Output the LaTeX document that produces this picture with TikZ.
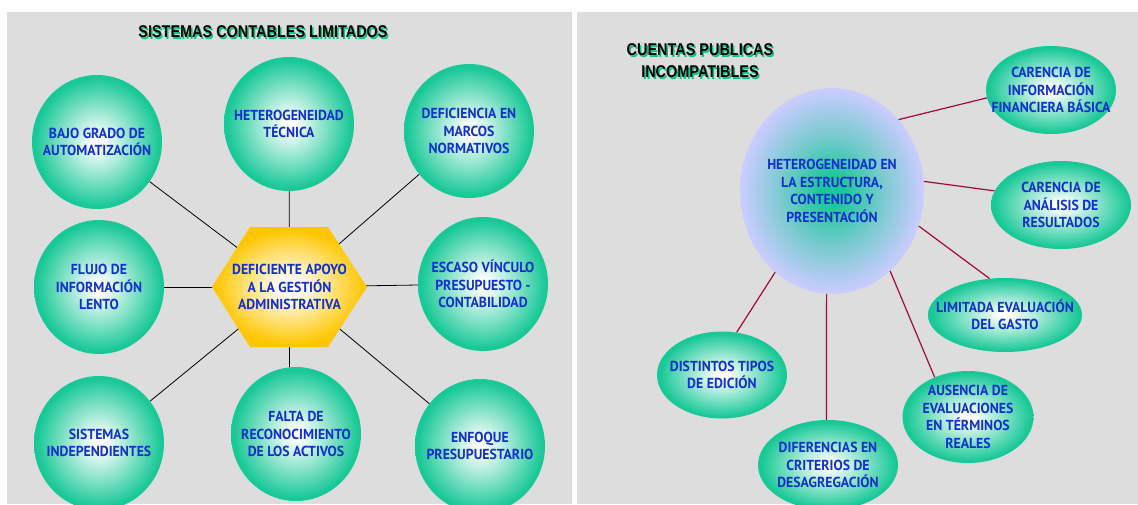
\documentclass[tikz,border=0pt]{standalone}
\usepackage{fontspec}
\setmainfont{PT Sans}
\newfontfamily\circfont[FakeStretch=0.95]{PT Sans}
\newfontfamily\titfont[FakeStretch=0.85]{Liberation Sans}
\usetikzlibrary{shapes.geometric}
\definecolor{panelgris}{RGB}{221,221,221}
\definecolor{menta}{RGB}{24,200,150}
\definecolor{mentaosc}{RGB}{14,190,140}
\definecolor{azultxt}{RGB}{18,48,205}
\definecolor{oro}{RGB}{255,198,0}
\definecolor{lavanda}{RGB}{204,204,255}
\definecolor{granate}{RGB}{160,10,60}
\definecolor{sombraverde}{RGB}{0,200,130}
\pgfdeclareradialshading{bolashade}{\pgfpoint{0bp}{0bp}}{color(0bp)=(white); color(2bp)=(white); color(24bp)=(menta); color(50bp)=(mentaosc)}
\pgfdeclareradialshading{hexshade}{\pgfpoint{0bp}{0bp}}{color(0bp)=(white); color(3bp)=(white); color(24bp)=(oro); color(50bp)=(oro)}
\pgfdeclareradialshading{granshade}{\pgfpoint{0bp}{0bp}}{color(0bp)=(menta); color(3bp)=(menta); color(14bp)=(menta!45!lavanda); color(25bp)=(lavanda); color(50bp)=(lavanda)}
\tikzset{
	bola/.style={ellipse, inner sep=0pt, shading=bolashade, minimum width=130pt, minimum height=134pt},
	gran/.style={ellipse, inner sep=0pt, shading=granshade, minimum width=184pt, minimum height=206pt},
	txt/.style={align=center, text=azultxt, inner sep=0pt, font=\circfont\bfseries\fontsize{14.5}{17.5}\selectfont},
	tit/.style={align=center, inner sep=0pt, font=\titfont\bfseries\fontsize{17}{22}\selectfont},
	linea/.style={black, line width=0.8pt},
	lineag/.style={granate, line width=1.2pt}
}
\begin{document}
\begin{tikzpicture}[x=1pt, y=-1pt]
	\useasboundingbox (0,0) rectangle (1138,504);
	\fill[white] (0,0) rectangle (1138,504);
	\fill[panelgris] (7,12) rectangle (572,504);
	\fill[panelgris] (577,12) rectangle (1138,504);
	% titulos
	\node[tit, text=sombraverde] (titAs) at (264.5,33.5) {SISTEMAS CONTABLES LIMITADOS};
	\node[tit] (titA) at (263,32) {SISTEMAS CONTABLES LIMITADOS};
	\node[tit, text=sombraverde] (titBs) at (701.5,62.5) {CUENTAS PUBLICAS\\INCOMPATIBLES};
	\node[tit] (titB) at (700,61) {CUENTAS PUBLICAS\\INCOMPATIBLES};
	% panel izquierdo
	\coordinate (hexc) at (289.5,287);
	\node[bola, label={[txt]center:{BAJO GRADO DE\\AUTOMATIZACIÓN}}] (bajo) at (97,142) {};
	\node[bola, label={[txt]center:{HETEROGENEIDAD\\TÉCNICA}}] (tecnica) at (289,124) {};
	\node[bola, label={[txt]center:{DEFICIENCIA EN\\MARCOS\\NORMATIVOS}}] (marcos) at (469,131) {};
	\node[bola, label={[txt]center:{FLUJO DE\\INFORMACIÓN\\LENTO}}] (flujo) at (99,287) {};
	\node[bola, label={[txt]center:{ESCASO VÍNCULO\\PRESUPUESTO -\\CONTABILIDAD}}] (vinculo) at (483,284) {};
	\node[bola, label={[txt]center:{SISTEMAS\\INDEPENDIENTES}}] (sistemas) at (99,443) {};
	\node[bola, label={[txt]center:{FALTA DE\\RECONOCIMIENTO\\DE LOS ACTIVOS}}] (activos) at (296,434) {};
	\node[bola, label={[txt]center:{ENFOQUE\\PRESUPUESTARIO}}] (enfoque) at (480,446) {};
	\foreach \n in {bajo,tecnica,marcos,flujo,vinculo,sistemas,enfoque}
		\draw[linea] (hexc) -- (\n);
	\draw[linea] (hexc) -- (activos.north -| hexc);
	\shade[shading=hexshade] (212,287) -- (250,227) -- (328,227) -- (367,287) -- (328,347) -- (250,347) -- cycle;
	\node[txt] (apoyo) at (hexc) {DEFICIENTE APOYO\\A LA GESTIÓN\\ADMINISTRATIVA};
	% panel derecho
	\node[gran, label={[txt]center:{HETEROGENEIDAD EN\\LA ESTRUCTURA,\\CONTENIDO Y\\PRESENTACIÓN}}] (hetero) at (832,191) {};
	\node[bola, minimum width=130pt, minimum height=88pt, label={[txt]center:{CARENCIA DE\\INFORMACIÓN\\FINANCIERA BÁSICA}}] (financiera) at (1051,90) {};
	\node[bola, minimum width=140pt, minimum height=88pt, label={[txt]center:{CARENCIA DE\\ANÁLISIS DE\\RESULTADOS}}] (analisis) at (1061,205) {};
	\node[bola, minimum width=154pt, minimum height=74pt, label={[txt]center:{LIMITADA EVALUACIÓN\\DEL GASTO}}] (gasto) at (1005,315) {};
	\node[bola, minimum width=131pt, minimum height=92pt, label={[txt]center:{AUSENCIA DE\\EVALUACIONES\\EN TÉRMINOS\\REALES}}] (reales) at (968,417) {};
	\node[bola, minimum width=140pt, minimum height=90pt, label={[txt]center:{DIFERENCIAS EN\\CRITERIOS DE\\DESAGREGACIÓN}}] (desagreg) at (828,465) {};
	\node[bola, minimum width=130pt, minimum height=87pt, label={[txt]center:{DISTINTOS TIPOS\\DE EDICIÓN}}] (edicion) at (722,375) {};
	\draw[lineag] (hetero.47) -- (financiera.187);
	\draw[lineag] (hetero.6) -- (analisis.168);
	\draw[lineag] (hetero.338) -- (gasto.113);
	\draw[lineag] (hetero.306) -- (reales.130);
	\draw[lineag] (hetero.267) -- (desagreg.92);
	\draw[lineag] (hetero.235) -- (edicion.71);
\end{tikzpicture}
\end{document}
